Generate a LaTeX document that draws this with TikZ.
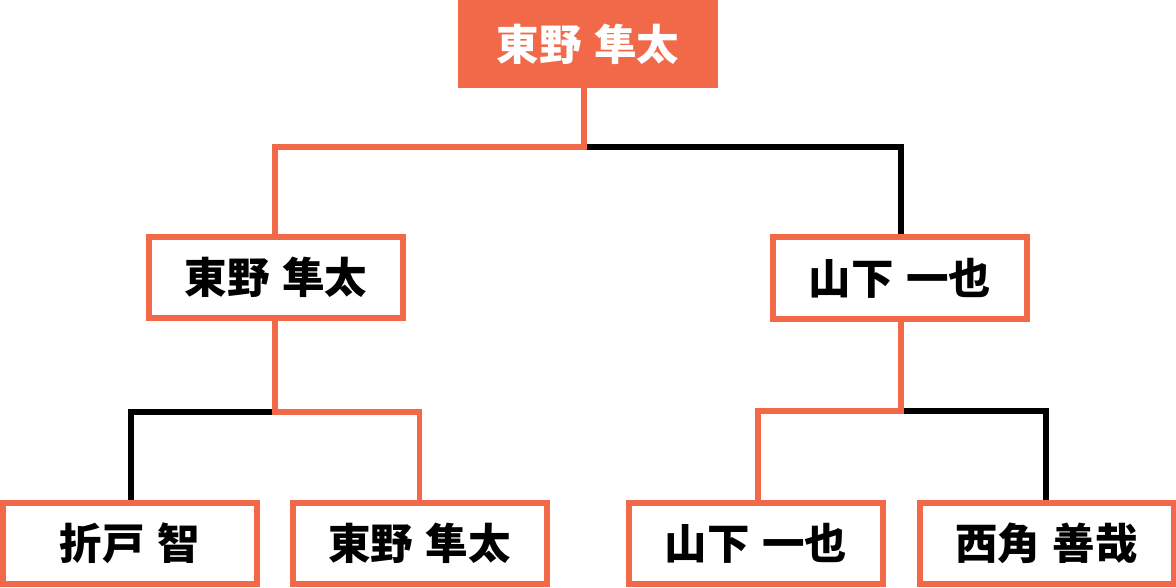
\documentclass[tikz,border=0pt]{standalone}
\usepackage{fontspec}
\setmainfont{Noto Sans CJK JP}
\definecolor{accent}{HTML}{F2694A}
\newcommand\namegap{\hspace{0.3em}}
\begin{document}
\begin{tikzpicture}[x=1pt,y=-1pt,
  box/.style={draw=accent,line width=6pt,fill=white,minimum width=254pt,minimum height=81pt,inner sep=0pt,outer sep=0pt,font=\fontsize{42.5}{46}\selectfont\bfseries,text=black},
  topbox/.style={fill=accent,minimum width=260pt,minimum height=88pt,inner sep=0pt,outer sep=0pt,font=\fontsize{42.5}{46}\selectfont\bfseries,text=white},
  win/.style={draw=accent,line width=5.5pt},
  lose/.style={draw=black,line width=5.5pt}]
\useasboundingbox (0,0) rectangle (1176,588);
\coordinate (j0) at (584,147);
\coordinate (j1) at (275,412);
\coordinate (j2) at (901,411);
% connectors
\draw[lose] (j0) -| (901,235);
\draw[win] (584,88) -- (j0) -| (275,235);
\draw[lose] (j1) -| (131,501);
\draw[win] (275,321) -- (j1) -| (419.5,501);
\draw[lose] (j2) -| (1046,501);
\draw[win] (901,321) -- (j2) -| (758,501);
% nodes
\node[topbox] (top) at (588,44) {東野\namegap 隼太};
\node[box] (ml) at (276,277.5) {東野\namegap 隼太};
\node[box] (mr) at (900,278) {山下\namegap 一也};
\node[box] (b1) at (130,543.5) {折戸\namegap 智};
\node[box] (b2) at (419.5,543.5) {東野\namegap 隼太};
\node[box] (b3) at (756,543.5) {山下\namegap 一也};
\node[box] (b4) at (1046.5,543.5) {西角\namegap 善哉};
\end{tikzpicture}
\end{document}
